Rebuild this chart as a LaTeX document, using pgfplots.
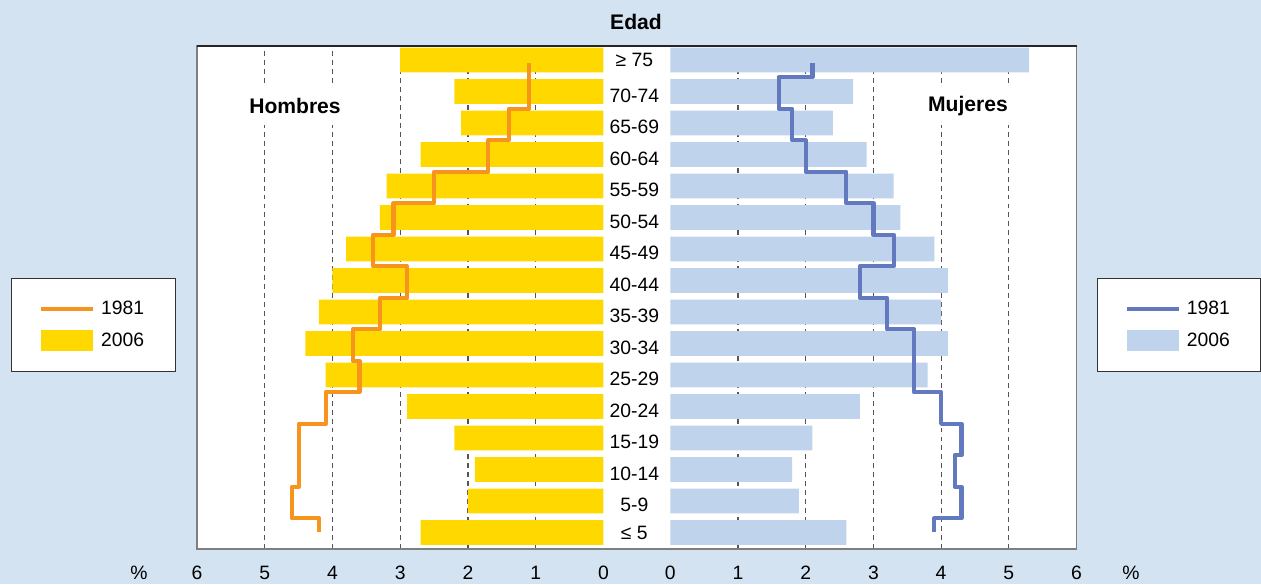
\documentclass[border=0pt]{standalone}
\usepackage{fontspec}
\setmainfont{Liberation Sans}
\usepackage{pgfplots}
\usepackage{pgfplotstable}
\pgfplotsset{compat=1.18}

\definecolor{bgblue}{HTML}{D4E3F2}
\definecolor{barblue}{HTML}{C0D3EC}
\definecolor{baryellow}{HTML}{FFD800}
\definecolor{lineorange}{HTML}{F7941E}
\definecolor{lineblue}{HTML}{6279BF}
\definecolor{gridgray}{HTML}{555555}
\definecolor{framegray}{HTML}{7F7F7F}

% row 0 = "<= 5" ... row 15 = ">= 75", values in %
\pgfplotstableread{
row men06 women06
0   2.7   2.6
1   2.0   1.9
2   1.9   1.8
3   2.2   2.1
4   2.9   2.8
5   4.1   3.8
6   4.4   4.1
7   4.2   4.0
8   4.0   4.1
9   3.8   3.9
10  3.3   3.4
11  3.2   3.3
12  2.7   2.9
13  2.1   2.4
14  2.2   2.7
15  3.0   5.3
}\pyramid

\pgfplotsset{
  pyr/.style={
    scale only axis, width=8.13cm, height=10.06cm,
    xmin=0, xmax=6, ymin=-0.524, ymax=15.444,
    xtick={0,...,6}, minor xtick={1,...,5}, xminorgrids,
    minor grid style={gridgray, line width=0.6pt, dash pattern=on 2.8pt off 2.3pt},
    axis line style={draw=none}, tick style={draw=none},
    font=\fontsize{11}{13}\selectfont,
    /pgf/number format/assume math mode=true,
    xticklabel style={yshift=-6.4pt},
    legend cell align=left,
    reverse legend,
    legend style={anchor=north west, draw=black!80, line width=0.6pt, fill=white,
      inner xsep=0.55cm, inner ysep=0.38cm, row sep=0.17cm,
      font=\fontsize{11}{13}\selectfont,
      /tikz/every odd column/.append style={column sep=0.05cm}},
  },
  barleg/.style={legend image code/.code={\fill[#1] (0cm,-0.21cm) rectangle (1.04cm,0.21cm);}},
  lineleg/.style={legend image code/.code={\draw[#1] (0cm,0cm) -- (1.04cm,0cm);}},
}

\begin{document}
\begin{tikzpicture}
\fill[bgblue] (0,0) rectangle (25.22,11.68);
\fill[white] (3.94,0.70) rectangle (21.53,10.76);

% Hombres
\begin{axis}[pyr, at={(3.94cm,0.70cm)}, anchor=south west, x dir=reverse,
    ytick=\empty,
    legend style={at={(axis description cs:-0.4576,0.5388)}}]
\addplot[xbar, bar width=0.79, fill=baryellow, draw=none, barleg={fill=baryellow}]
  table[x=men06, y=row] {\pyramid};
\addlegendentry{2006}
\addplot[lineorange, line width=2.4pt, line join=round, lineleg={lineorange, line width=2.4pt}]
  coordinates {(1.1,14.9)(1.1,13.45)(1.4,13.45)(1.4,12.45)(1.7,12.45)(1.7,11.45)
  (2.5,11.45)(2.5,10.45)(3.1,10.45)(3.1,9.45)(3.4,9.45)(3.4,8.45)(2.9,8.45)(2.9,7.45)
  (3.3,7.45)(3.3,6.45)(3.7,6.45)(3.7,5.45)(3.6,5.45)(3.6,4.45)(4.1,4.45)(4.1,3.45)
  (4.5,3.45)(4.5,1.45)(4.6,1.45)(4.6,0.45)(4.2,0.45)(4.2,0)};
\addlegendentry{1981}
\end{axis}

% Mujeres
\begin{axis}[pyr, at={(13.406cm,0.70cm)}, anchor=south west, width=8.124cm,
    ytick={0,...,15},
    yticklabels={{\raisebox{0.08cm}{≤ 5}},{5-9},{10-14},{15-19},{20-24},{25-29},{30-34},{35-39},
      {40-44},{45-49},{50-54},{55-59},{60-64},{65-69},{70-74},{\raisebox{0.08cm}{≥ 75}}},
    yticklabel pos=left,
    yticklabel style={anchor=base, xshift=-0.72cm, yshift=-0.22cm},
    legend style={at={(axis description cs:1.0497,0.5388)}}]
\addplot[xbar, bar width=0.79, fill=barblue, draw=none, barleg={fill=barblue}]
  table[x=women06, y=row] {\pyramid};
\addlegendentry{2006}
\addplot[lineblue, line width=2.4pt, line join=round, lineleg={lineblue, line width=2.4pt}]
  coordinates {(2.1,14.9)(2.1,14.45)(1.6,14.45)(1.6,13.45)(1.8,13.45)(1.8,12.45)
  (2.0,12.45)(2.0,11.45)(2.6,11.45)(2.6,10.45)(3.0,10.45)(3.0,9.45)(3.3,9.45)(3.3,8.45)
  (2.8,8.45)(2.8,7.45)(3.2,7.45)(3.2,6.45)(3.6,6.45)(3.6,4.45)(4.0,4.45)(4.0,3.45)
  (4.3,3.45)(4.3,2.45)(4.2,2.45)(4.2,1.45)(4.3,1.45)(4.3,0.45)(3.9,0.45)(3.9,0)};
\addlegendentry{1981}
\end{axis}

\draw[framegray, line width=0.8pt] (3.94,0.70) rectangle (21.53,10.76);
\draw[black!85, line width=0.8pt] (3.94,10.76) -- (21.53,10.76);

\node[font=\bfseries\fontsize{12}{14}\selectfont] at (12.72,11.24) {Edad};
\node[font=\bfseries\fontsize{12}{14}\selectfont, fill=white, minimum height=0.74cm, inner xsep=3pt]
  at (5.90,9.56) {Hombres};
\node[font=\bfseries\fontsize{12}{14}\selectfont, fill=white, minimum height=0.74cm, inner xsep=3pt]
  at (19.36,9.56) {Mujeres};
\node[font=\fontsize{11}{13}\selectfont] at (2.78,0.22) {\%};
\node[font=\fontsize{11}{13}\selectfont] at (22.62,0.22) {\%};

\pgfresetboundingbox
\path (0,0) rectangle (25.22,11.68);
\end{tikzpicture}
\end{document}
